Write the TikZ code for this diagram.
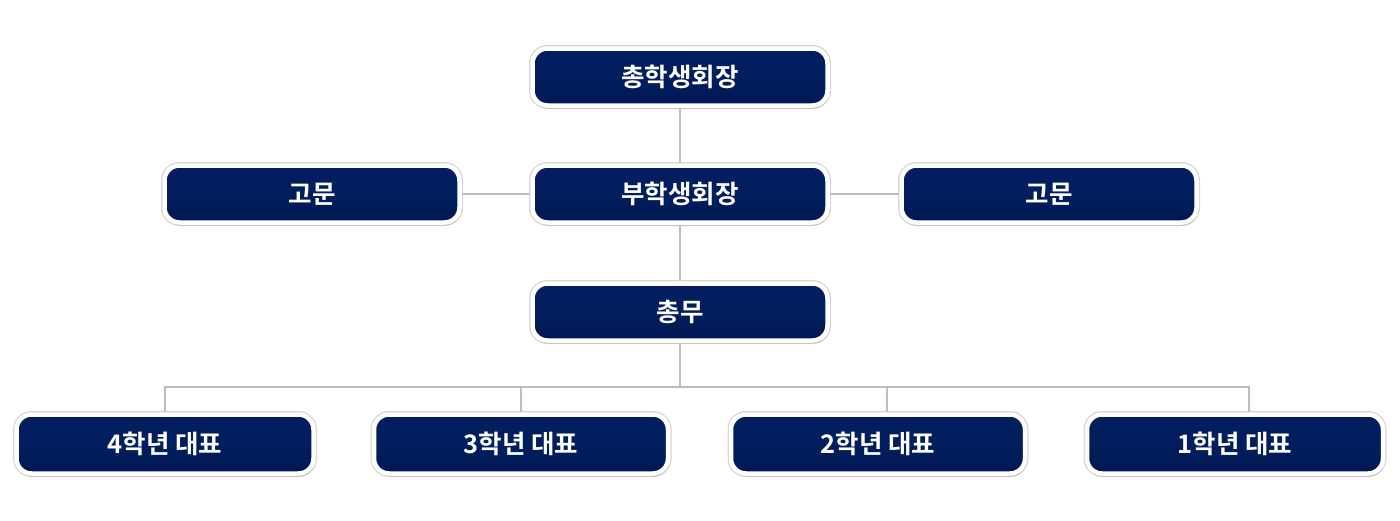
\documentclass[tikz,border=0pt]{standalone}
\usepackage{fontspec}
\newfontfamily\kr{Noto Sans CJK KR}[BoldFont={* Bold}]
\usetikzlibrary{shadows,calc}
\definecolor{navytop}{HTML}{021E5E}
\definecolor{navybot}{HTML}{001852}
\definecolor{conn}{HTML}{BDBDBD}
\tikzset{
  box/.style={rectangle, rounded corners=15pt, draw=white, line width=4.5pt,
    top color=navytop, bottom color=navybot, middle color=navytop,
    preaction={draw=black!16, line width=7pt},
    minimum width=295pt, minimum height=57pt, inner sep=0pt,
    text=white, font=\kr\bfseries\fontsize{25.5}{28}\selectfont,
    drop shadow={shadow xshift=1pt, shadow yshift=-3pt, opacity=0.25, fill=black!60}},
  conline/.style={draw=conn, line width=1.2pt}
}
\begin{document}
\begin{tikzpicture}[x=1pt,y=-1pt]
\useasboundingbox (0,0) rectangle (1400,520);
\node[box] (pres) at (680,77) {총학생회장};
\node[box] (vp) at (680,194) {부학생회장};
\node[box] (advL) at (312,194) {고문};
\node[box] (advR) at (1049,194) {고문};
\node[box] (sec) at (680,312) {총무};
\node[box, minimum width=297pt, minimum height=59pt] (y4) at (165,444) {4학년 대표};
\node[box, minimum width=294pt, minimum height=59pt] (y3) at (521,444) {3학년 대표};
\node[box, minimum width=294pt, minimum height=59pt] (y2) at (878,444) {2학년 대표};
\node[box, minimum width=296pt, minimum height=59pt] (y1) at (1235,444) {1학년 대표};
\coordinate (bus) at (680,387);
\draw[conline] (pres.south) -- (vp.north);
\draw[conline] (vp.south) -- (sec.north);
\draw[conline] (advL.east) -- (vp.west);
\draw[conline] (vp.east) -- (advR.west);
\draw[conline] (sec.south) -- (bus);
\draw[conline] (y4.north) |- (bus);
\draw[conline] (y3.north) |- (bus);
\draw[conline] ([xshift=9pt]y2.north) |- (bus);
\draw[conline] ([xshift=14pt]y1.north) |- (bus);
\end{tikzpicture}
\end{document}
